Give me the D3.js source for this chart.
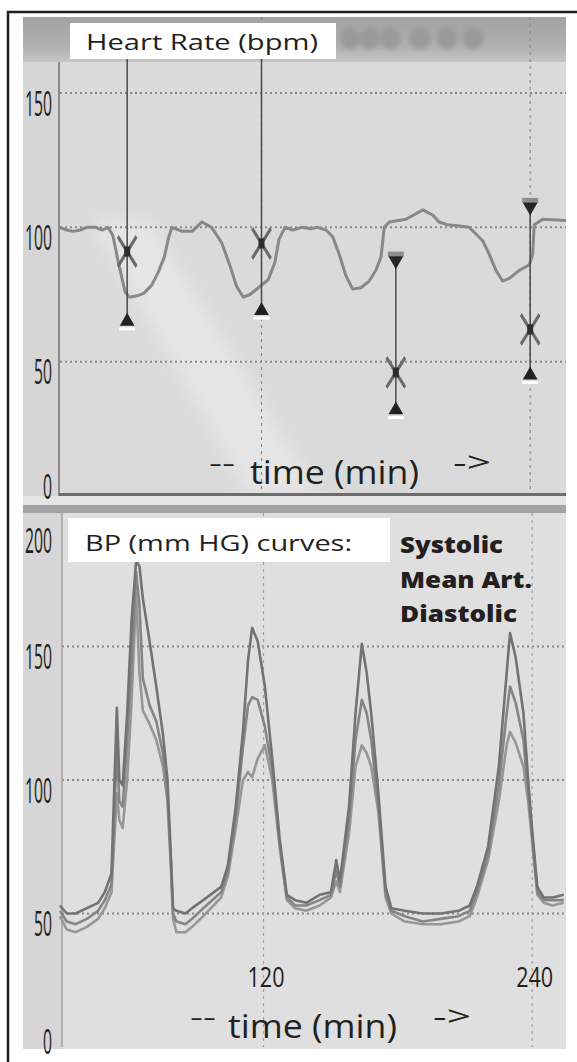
<!DOCTYPE html>
<html lang="en">
<head>
<meta charset="utf-8">
<script src="https://d3js.org/d3.v7.min.js"></script>
<style>
  body { margin: 0; background: #fff; }
  svg { display: block; }
  text { font-family: "Open Sans", "Noto Sans", sans-serif; fill: #231f20; }
</style>
</head>
<body>
<div id="chart"></div>
<script>
// heart rate trace (bpm) against time (min)
var hrTime  = [30, 33, 36, 39, 42, 46, 49, 51.4, 53.6, 56.3, 59.1, 61, 64.5, 67.5, 71, 74, 76.6, 78.6, 80, 84.5, 89, 93.4, 97.7,
               102.2, 106, 108.9, 111.9, 114.9, 118.6, 123, 126, 127.8, 130.5, 134, 138, 142, 145, 148.8, 151.8, 154.7, 157.7,
               160.7, 164.4, 168.1, 171.1, 173.4, 174.8, 177.1, 184.5, 192.1, 196.6, 199.3, 203, 208.3, 212.8, 215.8, 218.8,
               221.7, 224.7, 227.7, 230.7, 235.1, 239.6, 241.1, 241.8, 245.6, 256];
var hrValue = [100, 99, 98.5, 99, 100, 100, 99, 100, 97, 86, 76, 74, 74.5, 75.5, 78.5, 83.5, 89, 96.5, 100, 98.5, 98.5, 102, 100,
               94.3, 85.5, 78, 74, 75, 77.5, 80.5, 87, 95.5, 100, 99, 100, 99.5, 100, 99, 96.5, 90, 82,
               77, 77.5, 80, 84, 89, 100, 102, 103, 106.5, 104.5, 102, 101, 100.5, 100, 97.5, 95,
               90, 84, 80, 81, 84, 86, 90, 101, 103, 102.5];

// NIBP readings drawn on the heart rate panel
var eventTime = [60, 120, 180, 240];
var eventSys  = [null, null, 88, 108];
var eventMean = [91, 94, 46, 62];
var eventDia  = [65, 69, 32, 45];

// blood pressure curves (mm Hg)
var bpTime = [30, 33, 37, 42, 47, 50, 53, 55.4, 56.5, 58, 60, 62, 64, 65.5, 67, 70, 73, 76, 78, 79.5, 80.5,
              82, 86, 89, 94, 102, 105, 108.5, 111.7, 114, 115.8, 118.3, 121.5, 124.8, 128.1, 131.3,
              135, 140, 146, 151, 153.4, 155, 159.1, 162, 164.8, 167, 169, 172.2, 175.4, 178,
              184, 192, 200, 208, 213, 216.2, 221.2, 226, 229.5, 231, 233.5, 237, 239.1, 241, 243.2, 246, 250, 255];
var bpSys  = [53, 50, 50, 52, 54, 58, 65, 127, 100, 98, 125, 160, 182, 180, 168, 152, 135, 117, 100, 72, 52,
              51, 50, 52, 55, 60, 68, 90, 118, 145, 157, 152, 135, 108, 78, 57,
              55, 54, 57, 58, 70, 62, 90, 125, 151, 140, 125, 95, 60, 52,
              51, 50, 50, 51, 53, 60, 75, 105, 140, 155, 146, 125, 100, 80, 60, 56, 56, 57];
var bpMean = [51, 47, 46, 48, 51, 55, 61, 112, 92, 90, 115, 145, 178, 165, 138, 128, 122, 110, 95, 70, 50,
              47, 46, 48, 52, 58, 66, 86, 112, 128, 131, 130, 120, 104, 76, 56,
              53, 53, 55, 57, 66, 60, 85, 115, 130, 125, 115, 90, 58, 51,
              49, 47, 48, 49, 51, 58, 72, 98, 125, 135, 129, 115, 95, 78, 58, 55, 55, 55];
var bpDia  = [49, 44, 43, 45, 48, 52, 58, 95, 85, 82, 100, 130, 170, 140, 126, 121, 115, 105, 92, 68, 48,
              43, 43, 45, 49, 56, 64, 82, 100, 103, 101, 108, 113, 100, 75, 55,
              52, 51, 53, 56, 62, 58, 80, 105, 113, 110, 105, 88, 56, 50,
              47, 46, 46, 47, 49, 56, 70, 92, 113, 118, 114, 105, 92, 76, 57, 54, 53, 54];

var hrTicks = [0, 50, 100, 150];
var bpTicks = [0, 50, 100, 150, 200];
var hrGrid = [50, 100, 150];
var bpGrid = [50, 100, 150];
var timeTicks = [120, 240];
var legendNames = ["Systolic", "Mean Art.", "Diastolic"];

var W = 577, H = 1062;
var svg = d3.select("#chart").append("svg").attr("width", W).attr("height", H);
var defs = svg.append("defs");

var hdr = defs.append("linearGradient").attr("id", "hdr").attr("x1", 0).attr("x2", 0).attr("y1", 0).attr("y2", 1);
hdr.append("stop").attr("offset", "0%").attr("stop-color", "#a2a2a2");
hdr.append("stop").attr("offset", "70%").attr("stop-color", "#b2b2b2");
hdr.append("stop").attr("offset", "100%").attr("stop-color", "#c6c6c6");
defs.append("filter").attr("id", "soft").append("feGaussianBlur").attr("stdDeviation", 9);
defs.append("filter").attr("id", "blob").append("feGaussianBlur").attr("stdDeviation", 2.5);
defs.append("filter").attr("id", "fuzz").append("feGaussianBlur").attr("stdDeviation", 0.6);

// photo background
svg.append("rect").attr("x", 23).attr("y", 17).attr("width", 543).attr("height", 1032).attr("fill", "#d6d6d6");
svg.append("rect").attr("x", 60).attr("y", 62).attr("width", 506).attr("height", 434).attr("fill", "#dadada");
svg.append("rect").attr("x", 62).attr("y", 513).attr("width", 504).attr("height", 536).attr("fill", "#dfdfdf");
svg.append("polygon").attr("points", "90,220 150,220 320,496 250,496")
  .attr("fill", "#fff").attr("opacity", 0.3).attr("filter", "url(#soft)");
svg.append("rect").attr("x", 23).attr("y", 17).attr("width", 543).attr("height", 45).attr("fill", "url(#hdr)");
svg.selectAll(".hdot").data([350, 370, 390, 420, 447, 473]).enter().append("circle")
  .attr("cx", function(d) { return d; }).attr("cy", 38).attr("r", 11)
  .attr("fill", "#9a9a9a").attr("filter", "url(#blob)");
svg.append("rect").attr("x", 23).attr("y", 496).attr("width", 543).attr("height", 10).attr("fill", "#e4e4e4");
svg.append("rect").attr("x", 23).attr("y", 505).attr("width", 543).attr("height", 8).attr("fill", "#a3a3a3");

svg.append("path").attr("d", "M8,1062V12H577").attr("fill", "none").attr("stroke", "#231f20").attr("stroke-width", 2.5);

var x = d3.scaleLinear().domain([30, 256]).range([60, 566]);
var yHR = d3.scaleLinear().domain([0, 150]).range([496, 93]);
var yBP = d3.scaleLinear().domain([0, 200]).range([1047, 513]);

// grid lines
svg.selectAll(".hrgrid").data(hrGrid).enter().append("line")
  .attr("x1", 60).attr("x2", 566).attr("y1", function(d) { return yHR(d); }).attr("y2", function(d) { return yHR(d); })
  .attr("stroke", "#8a8a8a").attr("stroke-width", 2).attr("stroke-dasharray", "2,3");
svg.selectAll(".bpgrid").data(bpGrid).enter().append("line")
  .attr("x1", 62).attr("x2", 566).attr("y1", function(d) { return yBP(d); }).attr("y2", function(d) { return yBP(d); })
  .attr("stroke", "#8a8a8a").attr("stroke-width", 2).attr("stroke-dasharray", "2,3");
timeTicks.forEach(function(t) {
  svg.append("line").attr("x1", x(t)).attr("x2", x(t)).attr("y1", 17).attr("y2", 496)
    .attr("stroke", "#8c8c8c").attr("stroke-width", 1.2).attr("stroke-dasharray", "3,4");
  svg.append("line").attr("x1", x(t) + 2).attr("x2", x(t) + 2).attr("y1", 513).attr("y2", 1047)
    .attr("stroke", "#a0a0a0").attr("stroke-width", 1.2).attr("stroke-dasharray", "3,4");
});

// axis lines
svg.append("line").attr("x1", 59).attr("x2", 59).attr("y1", 62).attr("y2", 496).attr("stroke", "#8a8a8a").attr("stroke-width", 2);
svg.append("line").attr("x1", 62).attr("x2", 62).attr("y1", 513).attr("y2", 1047).attr("stroke", "#a0a0a0").attr("stroke-width", 1.5);
svg.append("line").attr("x1", 59).attr("x2", 566).attr("y1", 494.5).attr("y2", 494.5).attr("stroke", "#6c6c6c").attr("stroke-width", 3);

// heart rate trace
var hrLine = d3.line().x(function(d) { return x(d[0]); }).y(function(d) { return yHR(d[1]); });
svg.append("path").datum(d3.zip(hrTime, hrValue)).attr("d", hrLine)
  .attr("fill", "none").attr("stroke", "#888").attr("stroke-width", 3).attr("stroke-linejoin", "round")
  .attr("filter", "url(#fuzz)");

// NIBP markers
var triUp = d3.symbol().type(d3.symbolTriangle).size(95);
var xMark = d3.symbol().type(d3.symbolX).size(230);
eventTime.forEach(function(t, i) {
  var cx = x(t);
  var top = eventSys[i] === null ? 58 : yHR(eventSys[i]);
  svg.append("line").attr("x1", cx).attr("x2", cx).attr("y1", top).attr("y2", yHR(eventDia[i]))
    .attr("stroke", "#4a4a4a").attr("stroke-width", 1.5);
  if (eventSys[i] !== null) {
    var ys = yHR(eventSys[i]);
    svg.append("rect").attr("x", cx - 8).attr("y", ys - 8).attr("width", 16).attr("height", 5).attr("fill", "#8e8e8e");
    svg.append("path").attr("d", triUp).attr("transform", "translate(" + cx + "," + (ys + 1) + ") rotate(180)").attr("fill", "#262626");
  }
  var ym = yHR(eventMean[i]);
  svg.append("path").attr("d", xMark).attr("transform", "translate(" + cx + "," + ym + ") scale(1,1.6)")
    .attr("fill", "none").attr("stroke", "#6a6a6a").attr("stroke-width", 2.6);
  svg.append("rect").attr("x", cx - 3).attr("y", ym - 5).attr("width", 6).attr("height", 10).attr("fill", "#2e2e2e");
  var yd = yHR(eventDia[i]);
  svg.append("path").attr("d", triUp).attr("transform", "translate(" + cx + "," + yd + ")").attr("fill", "#222");
  svg.append("rect").attr("x", cx - 8).attr("y", yd + 6).attr("width", 16).attr("height", 3).attr("fill", "#fff");
});

// blood pressure curves
var bpLine = d3.line().x(function(d) { return x(d[0]); }).y(function(d) { return yBP(d[1]); });
[[bpDia, "#979797"], [bpMean, "#858585"], [bpSys, "#727272"]].forEach(function(s) {
  svg.append("path").datum(d3.zip(bpTime, s[0])).attr("d", bpLine)
    .attr("fill", "none").attr("stroke", s[1]).attr("stroke-width", 2.6).attr("stroke-linejoin", "round")
    .attr("filter", "url(#fuzz)");
});

// y axes: labels sit just below their grid line
function yAxis(scale, ticks, minBase, maxBase, xPos) {
  var g = svg.append("g").attr("transform", "translate(" + xPos + ",0)")
    .call(d3.axisLeft(scale).tickValues(ticks).tickSize(0).tickPadding(0).tickFormat(d3.format("d")));
  g.select(".domain").remove();
  g.selectAll("text")
    .attr("font-family", "'Open Sans', sans-serif").attr("font-size", 34).attr("fill", "#231f20")
    .attr("dy", function(d) { var b = Math.max(minBase, Math.min(maxBase, scale(d) + 22)); return (b - scale(d)) + "px"; })
    .attr("textLength", function(d) { return String(d).length * 9; })
    .attr("lengthAdjust", "spacingAndGlyphs");
}
yAxis(yHR, hrTicks, 110, 498, 52);
yAxis(yBP, bpTicks, 552, 1053, 52);

// x tick labels
var xg = svg.append("g").attr("transform", "translate(4,987)")
  .call(d3.axisBottom(x).tickValues(timeTicks).tickSize(0).tickPadding(0));
xg.select(".domain").remove();
xg.selectAll("text").attr("y", 0).attr("dy", 0)
  .attr("font-family", "'Open Sans', sans-serif").attr("font-size", 28).attr("fill", "#231f20")
  .attr("textLength", 37).attr("lengthAdjust", "spacingAndGlyphs");

// panel titles
svg.append("rect").attr("x", 70).attr("y", 23).attr("width", 266).attr("height", 36).attr("fill", "#fff");
svg.append("text").attr("x", 86).attr("y", 50).attr("font-size", 22).attr("textLength", 232)
  .attr("lengthAdjust", "spacingAndGlyphs").text("Heart Rate (bpm)");
svg.append("rect").attr("x", 68).attr("y", 518).attr("width", 322).attr("height", 44).attr("fill", "#fff");
svg.append("text").attr("x", 85).attr("y", 551).attr("font-size", 22).attr("textLength", 267)
  .attr("lengthAdjust", "spacingAndGlyphs").text("BP (mm HG) curves:");

var legLen = [103, 132, 117];
legendNames.forEach(function(n, i) {
  svg.append("text").attr("x", 400).attr("y", 553 + i * 34.5).attr("font-size", 22).attr("font-weight", 800)
    .attr("textLength", legLen[i]).attr("lengthAdjust", "spacingAndGlyphs").text(n);
});

// time captions
function timeCaption(base, dashX, textX, arrowX) {
  svg.append("text").attr("x", dashX).attr("y", base - 12).attr("font-size", 26).attr("textLength", 26)
    .attr("lengthAdjust", "spacingAndGlyphs").text("--");
  svg.append("text").attr("x", textX).attr("y", base).attr("font-size", 32).attr("textLength", 169)
    .attr("lengthAdjust", "spacingAndGlyphs").text("time (min)");
  svg.append("text").attr("x", arrowX).attr("y", base - 12).attr("font-size", 28)
    .attr("textLength", 38).attr("lengthAdjust", "spacingAndGlyphs").text("->");
}
timeCaption(484, 209, 250, 453);
timeCaption(1038, 190, 228, 433);
</script>
</body>
</html>
